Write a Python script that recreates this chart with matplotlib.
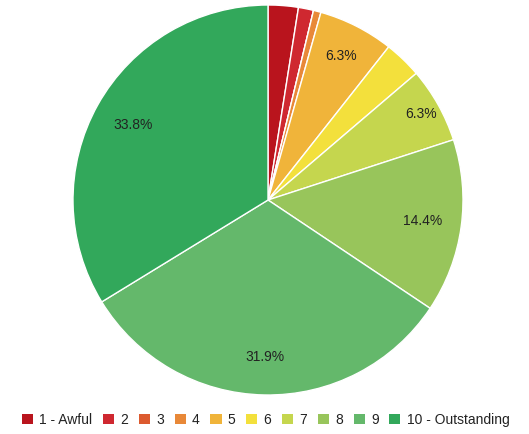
from decimal import Decimal, ROUND_HALF_UP

import numpy as np
import matplotlib.pyplot as plt
from matplotlib.patches import Patch

plt.rcParams['font.family'] = ['Liberation Sans', 'DejaVu Sans']

# survey scores, counts per rating
ratings = ['1 - Awful', '2', '3', '4', '5', '6', '7', '8', '9', '10 - Outstanding']
counts = [4, 2, 0, 1, 10, 5, 10, 23, 51, 54]
colors = ['#b9141d', '#cf2830', '#dc5a2f', '#e88838', '#f0b43a',
          '#f3e03c', '#c5d64e', '#98c55b', '#64b86b', '#32a85b']

# how far out each percentage label sits (fraction of radius)
label_dist = [0.8, 0.8, 0.8, 0.8, 0.83, 0.8, 0.9, 0.8, 0.805, 0.79]

total = sum(counts)


def fmt_pct(count):
    # round half up, so 6.25 shows as 6.3
    pct = Decimal(count * 100) / Decimal(total)
    return str(pct.quantize(Decimal('0.1'), rounding=ROUND_HALF_UP)) + '%'


fig = plt.figure(figsize=(5.29, 4.34), dpi=100)
ax = fig.add_axes([73 / 529, 39 / 434, 390 / 529, 390 / 434])

wedges, _ = ax.pie(
    counts, colors=colors, startangle=90, counterclock=False,
    wedgeprops=dict(edgecolor='white', linewidth=1.0),
)

for w, c, d in zip(wedges, counts, label_dist):
    if c / total < 0.05:
        continue
    mid = np.deg2rad((w.theta1 + w.theta2) / 2)
    ax.text(d * np.cos(mid), d * np.sin(mid), fmt_pct(c),
            ha='center', va='center', color='#222222', fontsize=10)

ax.set_xlim(-1, 1)
ax.set_ylim(-1, 1)
ax.set_aspect('equal')

handles = [Patch(facecolor=c, edgecolor='none') for c in colors]
fig.legend(handles, ratings, loc='center', bbox_to_anchor=(0.502, 14 / 434),
           ncol=10, frameon=False, fontsize=10, handlelength=0.8,
           handleheight=0.8, handletextpad=0.45, columnspacing=0.77,
           labelcolor='#222222')

fig.savefig('out.png', dpi=100)
